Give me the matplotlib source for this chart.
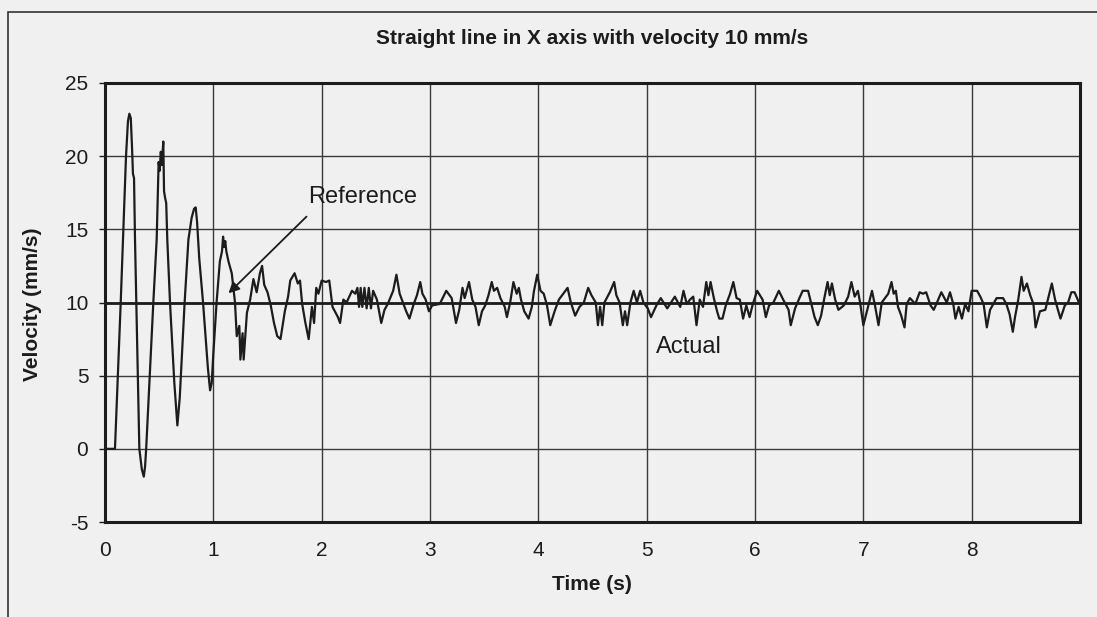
import numpy as np
import matplotlib
matplotlib.use("Agg")
import matplotlib.pyplot as plt
from matplotlib.patches import Rectangle

plt.rcParams['font.family'] = ['Liberation Sans', 'DejaVu Sans']
plt.rcParams['axes.unicode_minus'] = False

# measured velocity (time in s, velocity in mm/s)
t_actual = [0.00, 0.092, 0.145, 0.194, 0.212, 0.225, 0.238, 0.250, 0.258, 0.268,
            0.277, 0.297, 0.317, 0.340, 0.358, 0.370, 0.380, 0.446, 0.477, 0.495,
            0.505, 0.515, 0.525, 0.538, 0.545, 0.556, 0.565, 0.575, 0.600, 0.640,
            0.668, 0.690, 0.735, 0.770, 0.800, 0.822, 0.837, 0.850, 0.870, 0.905,
            0.950, 0.970, 0.985, 1.000, 1.030, 1.060, 1.080, 1.090, 1.100, 1.110,
            1.120, 1.140, 1.170, 1.200, 1.216, 1.240, 1.250, 1.270, 1.280, 1.310,
            1.340, 1.370, 1.400, 1.430, 1.450, 1.470, 1.500, 1.530, 1.560, 1.590,
            1.620, 1.660, 1.690, 1.710, 1.750, 1.780, 1.800, 1.820, 1.850, 1.880,
            1.910, 1.930, 1.950, 1.970, 2.000, 2.040, 2.070, 2.100, 2.150, 2.170,
            2.200, 2.230, 2.280, 2.310, 2.330, 2.345, 2.360, 2.375, 2.395, 2.415,
            2.435, 2.455, 2.475, 2.510, 2.550, 2.580, 2.610, 2.660, 2.690, 2.720,
            2.750, 2.780, 2.810, 2.850, 2.880, 2.910, 2.930, 2.960, 2.990, 3.020,
            3.090, 3.150, 3.200, 3.240, 3.270, 3.300, 3.320, 3.360, 3.390, 3.420,
            3.450, 3.480, 3.510, 3.540, 3.570, 3.590, 3.620, 3.650, 3.690, 3.710,
            3.740, 3.770, 3.800, 3.820, 3.840, 3.870, 3.910, 3.940, 3.960, 3.990,
            4.020, 4.050, 4.080, 4.110, 4.150, 4.190, 4.240, 4.270, 4.300, 4.340,
            4.380, 4.420, 4.460, 4.490, 4.530, 4.550, 4.570, 4.590, 4.610, 4.660,
            4.700, 4.720, 4.750, 4.780, 4.800, 4.820, 4.850, 4.880, 4.910, 4.940,
            4.970, 5.010, 5.040, 5.090, 5.130, 5.190, 5.260, 5.310, 5.340, 5.370,
            5.400, 5.430, 5.460, 5.490, 5.520, 5.550, 5.570, 5.590, 5.620, 5.650,
            5.670, 5.700, 5.730, 5.770, 5.800, 5.830, 5.860, 5.890, 5.920, 5.950,
            5.980, 6.020, 6.070, 6.100, 6.130, 6.170, 6.220, 6.260, 6.310, 6.330,
            6.370, 6.410, 6.440, 6.490, 6.520, 6.550, 6.580, 6.610, 6.640, 6.670,
            6.690, 6.710, 6.740, 6.770, 6.820, 6.860, 6.890, 6.920, 6.950, 6.970,
            7.000, 7.040, 7.080, 7.110, 7.140, 7.170, 7.200, 7.230, 7.260, 7.280,
            7.300, 7.320, 7.350, 7.380, 7.400, 7.430, 7.480, 7.520, 7.550, 7.580,
            7.620, 7.650, 7.680, 7.720, 7.770, 7.800, 7.830, 7.850, 7.880, 7.910,
            7.940, 7.970, 8.000, 8.050, 8.080, 8.110, 8.140, 8.170, 8.200, 8.230,
            8.290, 8.320, 8.350, 8.380, 8.400, 8.430, 8.460, 8.480, 8.510, 8.540,
            8.570, 8.590, 8.630, 8.680, 8.710, 8.740, 8.770, 8.800, 8.820, 8.860,
            8.890, 8.920, 8.950, 8.990]
v_actual = [0.0, 0.0, 10.0, 20.0, 22.4, 22.9, 22.6, 20.5, 18.8, 18.5,
            14.3, 7.0, 0.0, -1.4, -1.9, -1.2, 0.0, 10.0, 14.3, 19.6,
            19.0, 20.3, 19.4, 21.0, 17.6, 17.1, 16.8, 14.3, 10.0, 4.5,
            1.6, 3.5, 10.0, 14.3, 15.8, 16.4, 16.5, 15.5, 13.0, 10.0,
            5.5, 4.0, 4.5, 6.5, 10.0, 12.8, 13.5, 14.5, 13.8, 14.2,
            13.5, 12.8, 12.0, 10.0, 7.7, 8.4, 6.1, 7.9, 6.1, 9.3,
            10.2, 11.6, 10.7, 12.0, 12.5, 11.2, 10.7, 9.8, 8.6, 7.7,
            7.5, 9.4, 10.4, 11.5, 12.0, 11.3, 11.5, 9.9, 8.6, 7.5,
            9.7, 8.6, 11.0, 10.6, 11.5, 11.4, 11.5, 9.7, 9.0, 8.6,
            10.2, 10.0, 10.8, 10.6, 11.0, 9.7, 11.0, 9.7, 11.0, 9.6,
            11.0, 9.6, 10.8, 10.2, 8.6, 9.5, 9.9, 10.8, 11.9, 10.6,
            10.0, 9.4, 8.9, 9.9, 10.5, 11.4, 10.6, 10.2, 9.4, 9.8,
            9.9, 10.8, 10.3, 8.6, 9.5, 11.0, 10.3, 11.4, 10.2, 9.7,
            8.45, 9.4, 9.8, 10.5, 11.4, 10.8, 11.0, 10.3, 9.7, 9.0,
            10.0, 11.4, 10.6, 11.0, 10.2, 9.4, 8.9, 9.7, 10.8, 11.9,
            10.8, 10.6, 9.8, 8.45, 9.4, 10.2, 10.7, 11.0, 10.0, 9.1,
            9.7, 10.0, 11.0, 10.5, 10.0, 8.45, 9.7, 8.45, 10.0, 10.7,
            11.4, 10.5, 10.0, 8.45, 9.4, 8.45, 10.0, 10.8, 10.0, 10.8,
            10.0, 9.6, 9.0, 9.8, 10.3, 9.6, 10.4, 9.7, 10.8, 9.9,
            10.2, 10.4, 8.45, 10.2, 9.7, 11.4, 10.5, 11.4, 10.3, 9.4,
            8.9, 8.9, 9.8, 10.6, 11.4, 10.3, 10.2, 8.9, 9.8, 9.0,
            9.9, 10.8, 10.2, 9.0, 9.8, 10.0, 10.8, 10.2, 9.5, 8.45,
            9.6, 10.3, 10.8, 10.8, 9.9, 9.0, 8.45, 9.1, 10.3, 11.4,
            10.5, 11.3, 10.2, 9.5, 9.8, 10.4, 11.4, 10.4, 10.8, 10.0,
            8.45, 9.6, 10.8, 9.7, 8.45, 10.0, 10.3, 10.6, 11.4, 10.6,
            10.8, 9.7, 9.1, 8.3, 9.9, 10.3, 9.9, 10.7, 10.6, 10.7,
            9.8, 9.5, 10.0, 10.7, 10.0, 10.7, 9.9, 8.9, 9.7, 8.9,
            9.9, 9.4, 10.8, 10.8, 10.4, 9.9, 8.3, 9.5, 9.9, 10.3,
            10.3, 9.9, 9.2, 8.0, 9.0, 10.2, 11.75, 10.8, 11.3, 10.5,
            9.9, 8.3, 9.4, 9.5, 10.4, 11.3, 10.2, 9.4, 8.9, 9.8,
            10.0, 10.7, 10.7, 10.0]

# commanded velocity
t_ref = [0.0, 9.0]
v_ref = [10.0, 10.0]

x_ticks = [0, 1, 2, 3, 4, 5, 6, 7, 8]
y_ticks = [-5, 0, 5, 10, 15, 20, 25]

bg = '#f0f0f0'
ink = '#1c1c1c'

fig = plt.figure(figsize=(10.97, 6.17), dpi=100, facecolor=bg)
ax = fig.add_axes([105/1097, 1 - 522/617, 975/1097, 439/617])
ax.set_facecolor(bg)

ax.plot(t_ref, v_ref, color=ink, lw=2.0, solid_joinstyle='round')
ax.plot(t_actual, v_actual, color=ink, lw=1.6, solid_joinstyle='round')

ax.set_xlim(0, 9)
ax.set_ylim(-5, 25)
ax.set_xticks(x_ticks)
ax.set_yticks(y_ticks)
ax.grid(True, color='#3a3a3a', lw=1.0)
ax.set_axisbelow(True)
for s in ax.spines.values():
    s.set_linewidth(2.2)
    s.set_color(ink)
ax.tick_params(axis='y', direction='out', length=4, width=1, pad=8,
               labelsize=15, colors=ink)
ax.tick_params(axis='x', direction='out', length=0, pad=14,
               labelsize=15, colors=ink)

# labels for the two curves
ax.text(2.38, 17.2, 'Reference', fontsize=17, ha='center', va='center', color=ink)
ax.annotate('', xy=(1.14, 10.63), xytext=(1.86, 15.87),
            arrowprops=dict(arrowstyle='-|>', color=ink, lw=1.3,
                            mutation_scale=16, shrinkA=0, shrinkB=0))
ax.text(5.39, 6.93, 'Actual', fontsize=17, ha='center', va='center', color=ink)

fig.text(592/1097, 1 - 38/617, 'Straight line in X axis with velocity 10 mm/s',
         fontsize=15, fontweight='bold', ha='center', va='center', color=ink)
fig.text(33/1097, 1 - 304/617, 'Velocity (mm/s)', fontsize=15, fontweight='bold',
         rotation=90, ha='center', va='center', color=ink)
fig.text(592/1097, 1 - 585/617, 'Time (s)', fontsize=15, fontweight='bold',
         ha='center', va='center', color=ink)

# chart frame
fig.add_artist(Rectangle((8/1097, -0.1), 1.2, 1 - 12/617 + 0.1,
                         transform=fig.transFigure, fill=False,
                         edgecolor='#333333', lw=1.2))

fig.savefig('out.png', dpi=100, facecolor=bg)
